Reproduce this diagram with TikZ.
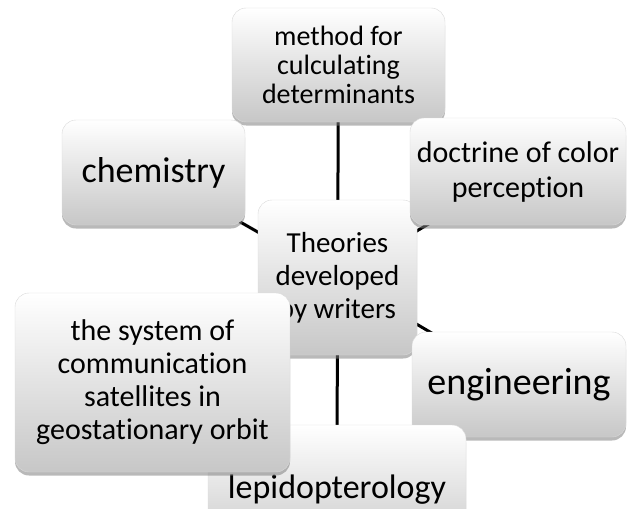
\documentclass[tikz,border=0pt]{standalone}
\usepackage{fontspec}
\setmainfont[Ligatures=NoCommon]{Carlito}
\usetikzlibrary{shadows}
\pgfdeclarelayer{back}
\pgfsetlayers{back,main}
\newcommand{\fs}[2]{\fontsize{#1}{#2}\selectfont}
\tikzset{
  bubble/.style={rectangle, rounded corners=14pt, draw=black!15, line width=.4pt,
    top color=white, bottom color=black!22, align=center, inner sep=0pt,
    drop shadow={shadow xshift=0pt, shadow yshift=-3.5pt, opacity=.55}},
  link/.style={line width=3pt}
}

\begin{document}
\begin{tikzpicture}[x=1pt, y=-1pt]
\useasboundingbox (0,0) rectangle (628,508);
\node[bubble, minimum width=159pt, minimum height=155pt, font={\fs{29}{33}}] (theory) at (337.5,277.5) {Theories\\developed\\by writers};
\node[bubble, minimum width=213pt, minimum height=114pt, font={\fs{28}{29}}] (method) at (338.5,65) {method for\\culculating\\determinants};
\node[bubble, minimum width=183pt, minimum height=105pt, font={\fs{36}{40}}] (chem) at (153.5,172.5) {chemistry};
\node[bubble, minimum width=216pt, minimum height=107pt, font={\fs{30}{35}}] (color) at (518,171.5) {doctrine of color\\perception};
\node[bubble, minimum width=214pt, minimum height=105pt, font={\fs{38}{40}}] (eng) at (519,384.5) {engineering};
\node[bubble, minimum width=258pt, minimum height=130pt, font={\fs{34}{38}}] (lepi) at (337,490) {lepidopterology};
\node[bubble, minimum width=275pt, minimum height=179pt, font={\fs{30}{33}}] (sat) at (152.5,382.5) {the system of\\communication\\satellites in\\geostationary orbit};
\begin{pgfonlayer}{back}
\foreach \n in {method, chem, color, eng, lepi, sat}
  \draw[link] (theory.center) -- (\n.center);
\end{pgfonlayer}
\end{tikzpicture}
\end{document}
